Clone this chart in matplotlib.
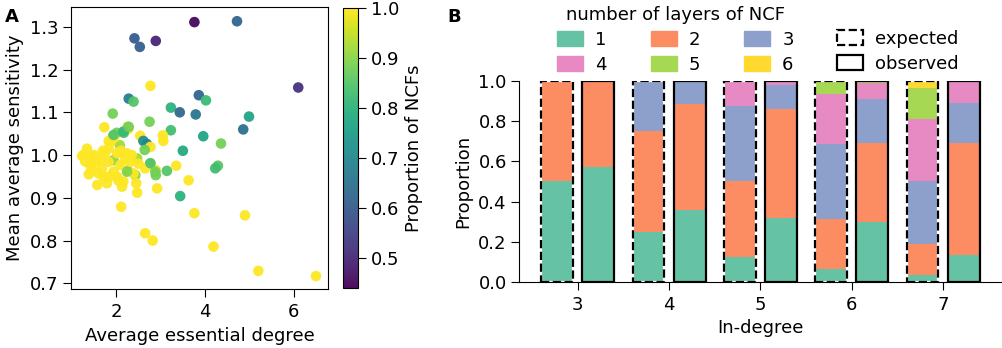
import numpy as np
import matplotlib
matplotlib.use('Agg')
import matplotlib.pyplot as plt
from matplotlib.patches import Patch

plt.rcParams['font.size'] = 13
plt.rcParams['xtick.major.size'] = 5.5
plt.rcParams['ytick.major.size'] = 5.5
plt.rcParams['xtick.major.pad'] = 4.5

# panel A: one point per network
deg = [3.76, 4.72, 2.41, 2.53, 2.89, 6.10, 2.77, 2.28, 2.39, 3.86, 4.02, 3.23, 3.43, 3.79,
       1.92, 4.99, 2.75, 1.73, 2.26, 2.27, 3.23, 4.86, 1.93, 2.01, 2.17, 2.54, 3.05, 3.96,
       3.06, 1.83, 2.08, 2.61, 2.69, 2.77, 4.36, 2.64, 3.50, 1.34, 1.23, 1.41, 1.94, 2.24,
       2.47, 2.76, 2.65, 2.89, 2.89, 3.14, 3.35, 2.26, 2.43, 4.29, 4.23, 3.44, 3.63, 2.92,
       2.47, 2.45, 2.11, 3.76, 4.90, 2.65, 2.82, 4.19, 5.20, 6.50,
       1.26, 1.53, 1.38, 1.57, 1.71, 1.68, 1.83, 1.87, 2.02, 2.09, 2.02, 2.16, 2.13, 2.31,
       2.39, 1.83, 1.94, 1.79, 1.60, 1.41, 1.50, 1.65, 1.75, 1.30, 1.45, 1.85, 2.05, 1.70,
       2.20, 2.35, 2.10, 1.95, 2.50,
       1.94, 2.16, 2.28, 2.77, 2.88, 2.24]
sens = [1.311, 1.313, 1.273, 1.253, 1.267, 1.158, 1.162, 1.132, 1.125, 1.140, 1.128, 1.111,
        1.100, 1.095, 1.097, 1.090, 1.078, 1.065, 1.066, 1.061, 1.058, 1.060, 1.044, 1.052,
        1.052, 1.045, 1.046, 1.044, 1.033, 1.033, 1.023, 1.033, 1.026, 1.019, 1.027, 1.012,
        1.010, 1.015, 0.998, 0.996, 0.988, 1.004, 0.992, 0.980, 0.969, 0.965, 0.953, 0.963,
        0.975, 0.963, 0.953, 0.975, 0.969, 0.904, 0.941, 0.922, 0.912, 0.934, 0.879, 0.864,
        0.859, 0.817, 0.800, 0.786, 0.729, 0.717,
        1.000, 0.984, 0.955, 0.930, 0.949, 0.969, 1.016, 1.031, 1.004, 0.977, 0.949, 0.938,
        0.926, 0.984, 0.957, 0.984, 0.961, 0.934, 0.957, 0.977, 1.000, 0.990, 1.005, 0.985,
        0.965, 0.950, 0.940, 1.010, 0.990, 1.000, 1.010, 1.040, 0.980,
        1.047, 1.055, 1.066, 0.981, 0.961, 0.961]
prop = [0.45, 0.62, 0.60, 0.61, 0.50, 0.52, 1.0, 0.68, 0.85, 0.62, 0.82, 0.80, 0.63, 0.66,
        0.88, 0.77, 0.88, 1.0, 0.92, 1.0, 0.83, 0.65, 0.90, 0.88, 0.85, 1.0, 1.0, 0.77,
        1.0, 1.0, 0.92, 0.72, 0.70, 1.0, 0.88, 0.88, 0.78, 1.0, 1.0, 1.0, 0.90, 1.0,
        0.92, 0.88, 1.0, 1.0, 0.88, 0.85, 1.0, 0.88, 0.90, 0.85, 0.83, 0.80, 1.0, 1.0,
        1.0, 1.0, 1.0, 1.0, 1.0, 1.0, 1.0, 1.0, 1.0, 1.0,
        1.0, 1.0, 1.0, 1.0, 1.0, 1.0, 1.0, 1.0, 1.0, 1.0, 1.0, 1.0, 1.0, 1.0,
        1.0, 1.0, 1.0, 1.0, 1.0, 1.0, 1.0, 1.0, 1.0, 1.0, 1.0, 1.0, 1.0, 1.0,
        1.0, 1.0, 1.0, 1.0, 1.0,
        0.85, 0.82, 0.88, 0.85, 0.88, 0.90]

# panel B: share of functions by number of NCF layers
indeg = [3, 4, 5, 6, 7]
layers = ['1', '2', '3', '4', '5', '6']
expected = [
    [0.5, 0.5, 0, 0, 0, 0],
    [0.25, 0.5, 0.25, 0, 0, 0],
    [0.125, 0.375, 0.375, 0.125, 0, 0],
    [0.0625, 0.25, 0.375, 0.25, 0.0625, 0],
    [0.031, 0.156, 0.313, 0.313, 0.156, 0.031],
]
observed = [
    [0.571, 0.429, 0, 0, 0, 0],
    [0.358, 0.528, 0.114, 0, 0, 0],
    [0.320, 0.541, 0.119, 0.020, 0, 0],
    [0.300, 0.393, 0.218, 0.082, 0.007, 0],
    [0.131, 0.562, 0.198, 0.109, 0, 0],
]
colors = ['#66c2a5', '#fc8d62', '#8da0cb', '#e78ac3', '#a6d854', '#ffd92f']

fig = plt.figure(figsize=(10.03, 3.48), dpi=100)

ax = fig.add_axes([0.0708, 0.1687, 0.2562, 0.812])
sc = ax.scatter(deg, sens, c=prop, cmap='viridis', vmin=0.44, vmax=1.0,
                s=58, alpha=0.95, linewidths=0)
ax.set_xlim(0.98, 6.77)
ax.set_ylim(0.686, 1.347)
ax.set_xticks([2, 4, 6])
ax.set_yticks([0.7, 0.8, 0.9, 1.0, 1.1, 1.2, 1.3])
ax.set_xlabel('Average essential degree')
ax.set_ylabel('Mean average sensitivity')
cax = fig.add_axes([0.342, 0.1716, 0.015, 0.8046])
cb = fig.colorbar(sc, cax=cax)
cb.set_label('Proportion of NCFs')
cb.set_ticks([0.5, 0.6, 0.7, 0.8, 0.9, 1.0])
fig.text(0.005, 0.937, 'A', fontweight='bold', fontsize=13)

bx = fig.add_axes([0.5177, 0.1905, 0.4808, 0.5759])
w = 0.35
for i, d in enumerate(indeg):
    for xpos, fr, ls in [(d - 0.225, expected[i], '--'), (d + 0.225, observed[i], '-')]:
        bottom = 0
        for k in range(len(layers)):
            if fr[k] > 0:
                bx.bar(xpos, fr[k], w, bottom=bottom, color=colors[k], linewidth=0)
            bottom += fr[k]
        if ls == '--':
            bx.bar(xpos, 1, w, fill=False, edgecolor='white', linewidth=1.6)
        bx.bar(xpos, 1, w, fill=False, edgecolor='black', linewidth=1.6, linestyle=ls)
bx.set_ylim(0, 1)
bx.set_xticks(indeg)
bx.set_yticks([0, 0.2, 0.4, 0.6, 0.8, 1.0])
bx.spines['top'].set_visible(False)
bx.spines['right'].set_visible(False)
bx.set_xlabel('In-degree')
bx.set_ylabel('Proportion')

handles = [Patch(color=c) for c in colors]
order = [0, 3, 1, 4, 2, 5]
leg1 = bx.legend([handles[j] for j in order], [layers[j] for j in order], ncol=3,
                 title='number of layers of NCF', title_fontsize=13, frameon=False,
                 loc='upper left', bbox_to_anchor=(0.5485, 1.004),
                 bbox_transform=fig.transFigure,
                 handlelength=1.44, handleheight=0.89, columnspacing=2.44,
                 labelspacing=0.38, borderaxespad=0, handletextpad=0.66)
bx.add_artist(leg1)
h2 = [Patch(facecolor='none', edgecolor='black', linestyle='--', linewidth=1.6),
      Patch(facecolor='none', edgecolor='black', linewidth=1.6)]
bx.legend(h2, ['expected', 'observed'], frameon=False, loc='upper left',
          bbox_to_anchor=(0.8275, 0.935), bbox_transform=fig.transFigure,
          handlelength=1.44, handleheight=0.89,
          labelspacing=0.38, borderaxespad=0, handletextpad=0.66)
fig.text(0.446, 0.937, 'B', fontweight='bold', fontsize=13)

fig.savefig('out.png', dpi=100)
